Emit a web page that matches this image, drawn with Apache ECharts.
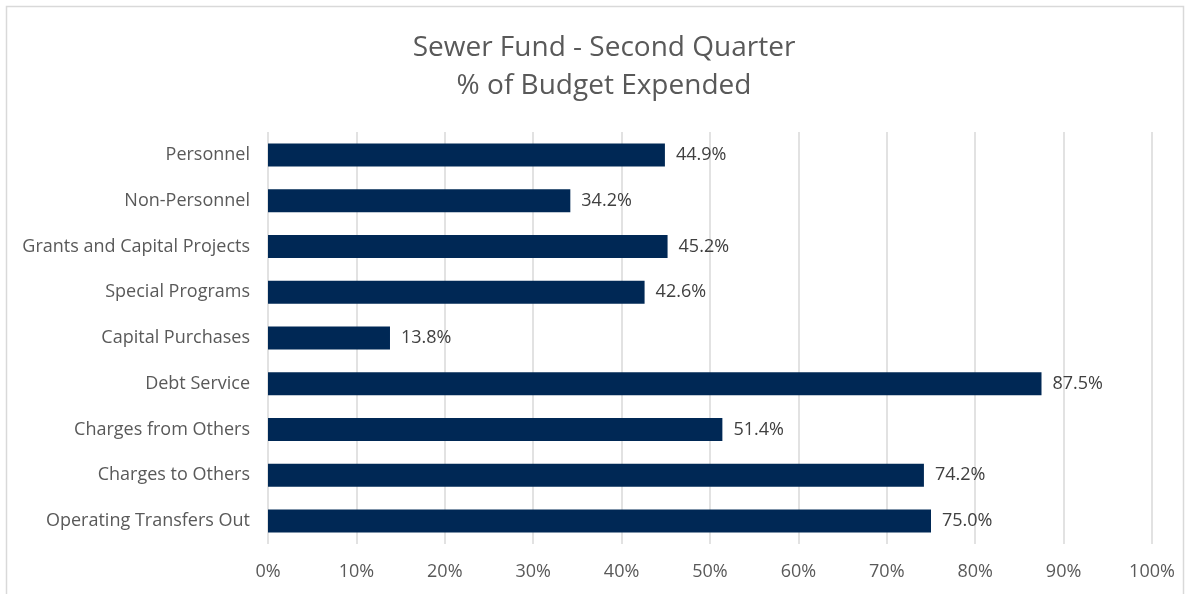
<!DOCTYPE html>
<html>
<head>
<meta charset="utf-8">
<script src="https://cdn.jsdelivr.net/npm/echarts@6/dist/echarts.min.js"></script>
<style>
  html, body { margin: 0; padding: 0; background: #fff; }
  #chart { width: 1189px; height: 594px; }
</style>
</head>
<body>
<div id="chart"></div>
<script>
const categories = [
    'Personnel',
    'Non-Personnel',
    'Grants and Capital Projects',
    'Special Programs',
    'Capital Purchases',
    'Debt Service',
    'Charges from Others',
    'Charges to Others',
    'Operating Transfers Out'
];
const expended = [44.9, 34.2, 45.2, 42.6, 13.8, 87.5, 51.4, 74.2, 75.0];
const xTicks = [0, 10, 20, 30, 40, 50, 60, 70, 80, 90, 100];

const myChart = echarts.init(document.getElementById('chart'));

const option = {
    backgroundColor: '#fff',
    animation: false,
    title: {
        text: 'Sewer Fund - Second Quarter\n% of Budget Expended',
        left: 599,
        textAlign: 'center',
        top: 24,
        textStyle: {
            fontFamily: 'Open Sans',
            fontSize: 28,
            fontWeight: 'normal',
            color: '#595959',
            lineHeight: 38
        }
    },
    graphic: [{
        type: 'rect',
        shape: { x: 6.5, y: 6.5, width: 1177, height: 600 },
        style: { fill: 'none', stroke: '#d9d9d9', lineWidth: 1.5 },
        silent: true
    }],
    grid: {
        left: 268,
        right: 1189 - 1152,
        top: 132,
        bottom: 594 - 544
    },
    xAxis: {
        type: 'value',
        min: 0,
        max: 100,
        interval: 10,
        axisLine: { show: false },
        axisTick: { show: false },
        splitLine: { show: true, lineStyle: { color: '#d9d9d9', width: 1.5 } },
        axisLabel: {
            margin: 19,
            fontFamily: 'Open Sans',
            fontSize: 18,
            color: '#595959',
            formatter: v => xTicks.includes(v) ? v + '%' : ''
        }
    },
    yAxis: {
        type: 'category',
        inverse: true,
        data: categories,
        axisLine: { show: false },
        axisTick: { show: false },
        axisLabel: {
            margin: 18,
            fontFamily: 'Open Sans',
            fontSize: 18,
            color: '#595959'
        }
    },
    series: [{
        type: 'bar',
        data: expended,
        barWidth: 23,
        itemStyle: { color: '#002855' },
        label: {
            show: true,
            position: 'right',
            distance: 11,
            fontFamily: 'Open Sans',
            fontSize: 18,
            color: '#404040',
            formatter: p => p.value.toFixed(1) + '%'
        }
    }]
};

myChart.setOption(option);
</script>
</body>
</html>
